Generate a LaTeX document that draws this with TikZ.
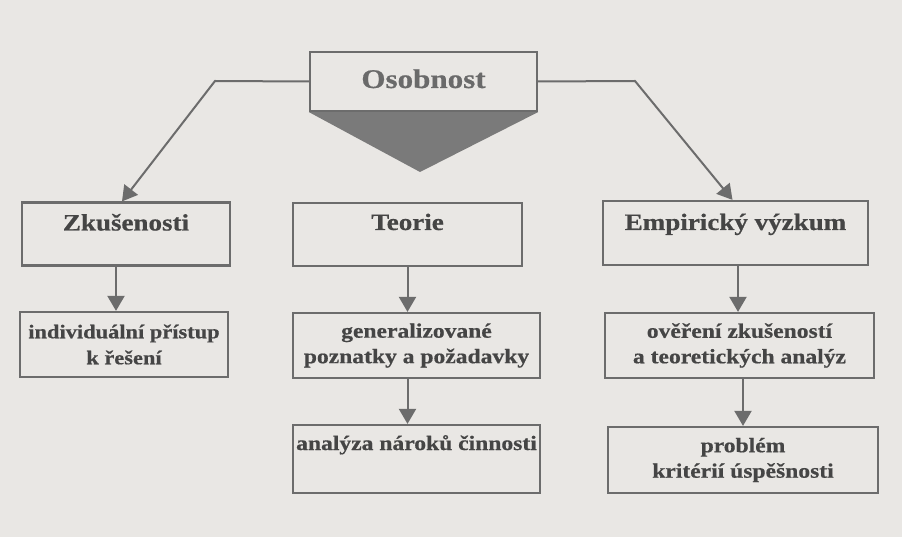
\documentclass[tikz,border=0pt]{standalone}
\usepackage{fontspec}
\setmainfont{Liberation Serif}[FakeStretch=1.15, BoldFeatures={FakeBold=0.6}]
\usetikzlibrary{arrows.meta}
\definecolor{paper}{HTML}{E9E7E4}
\definecolor{linec}{HTML}{6C6C6C}
\definecolor{txt}{HTML}{454545}
\definecolor{tri}{HTML}{7A7A7A}
\tikzset{
  box/.style={draw=linec, line width=2.2pt, inner sep=0pt, text=txt, font=\bfseries\fontsize{20.5}{25.5}\selectfont, align=center},
  topbox/.style={box, font=\bfseries\fontsize{23.5}{28}\selectfont},
  arr/.style={draw=linec, line width=2pt, -{Triangle[width=17pt,length=15pt]}},
  conn/.style={draw=linec, line width=2pt}
}
\begin{document}
\begin{tikzpicture}[x=1pt,y=-1pt]
\fill[paper] (0,0) rectangle (902,537);
\useasboundingbox (0,0) rectangle (902,537);
% top node
\node[box, font=\bfseries\fontsize{27}{32}\selectfont, text=txt!80, minimum width=227pt, text height=36pt, text depth=23pt] (osob) at (423.5,81.5) {Osobnost};
\fill[tri] (osob.south west) -- (osob.south east) -- (420,172) -- cycle;
% level 1
\node[topbox, minimum width=208pt, text height=28pt, text depth=35pt] (zk) at (126,234) {Zkušenosti};
\node[topbox, minimum width=229pt, text height=27pt, text depth=36pt] (teo) at (407.5,234.5) {Teorie};
\node[topbox, minimum width=265pt, text height=29pt, text depth=35pt] (emp) at (735.5,233) {Empirický výzkum};
% level 2
\node[box, font=\bfseries\fontsize{19.5}{26}\selectfont, minimum width=208pt, minimum height=65pt] (ind) at (124,344.5) {individuální přístup\\k řešení};
\node[box, minimum width=247pt, minimum height=65pt] (gen) at (416.5,345.5) {generalizované\\poznatky a požadavky};
\node[box, minimum width=269pt, minimum height=65pt] (ove) at (739.5,345.5) {ověření zkušeností\\a teoretických analýz};
% level 3
\node[box, minimum width=247pt, text height=25pt, text depth=43pt] (ana) at (416.5,459) {analýza nároků činnosti};
\node[box, minimum width=270pt, minimum height=66pt] (pro) at (743,460) {problém\\kritérií úspěšnosti};
% connectors from top
\coordinate (lb) at (215,81);
\coordinate (rb) at (635,81);
\draw[arr] (osob.west) -- (lb) -- ([xshift=-4pt]zk.north);
\draw[arr] (osob.east) -- (rb) -- ([xshift=-3pt]emp.north);
% vertical arrows
\draw[arr] ([xshift=-10pt]zk.south) -- ([xshift=-10pt]zk.south |- ind.north);
\draw[arr] (teo.south) -- (teo.south |- gen.north);
\draw[arr] (teo.south |- gen.south) -- (teo.south |- ana.north);
\draw[arr] ([xshift=2.5pt]emp.south) -- ([xshift=2.5pt]emp.south |- ove.north);
\draw[arr] (pro.north |- ove.south) -- (pro.north);
\end{tikzpicture}
\end{document}
